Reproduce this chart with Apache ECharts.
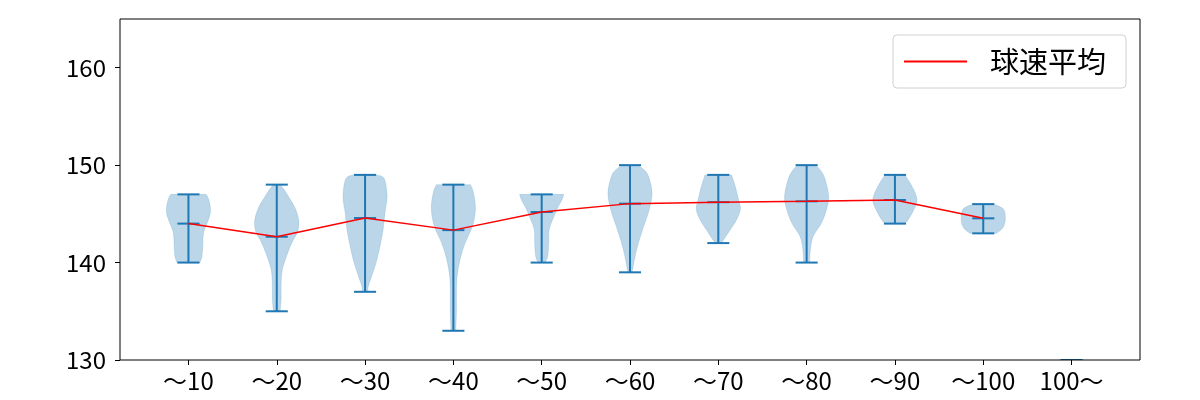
<!DOCTYPE html>
<html><head><meta charset="utf-8">
<script src="https://cdn.jsdelivr.net/npm/echarts@6/dist/echarts.min.js"></script>
<style>html,body{margin:0;padding:0;background:#fff}#c{width:1200px;height:400px}</style>
</head><body><div id="c"></div>
<script>
const categories = ['〜10','〜20','〜30','〜40','〜50','〜60','〜70','〜80','〜90','〜100','100〜'];
const minVals  = [140, 135, 137, 133, 140, 139, 142, 140, 144, 143, 127.5];
const maxVals  = [147, 148, 149, 148, 147, 150, 149, 150, 149, 146, 130.0];
const meanVals = [144.0, 142.65, 144.57, 143.33, 145.19, 146.05, 146.2, 146.29, 146.42, 144.54, null];
// density profile (relative width, 1 = widest) read at speed levels
const densityLevels = [
  [140, 140.5, 141, 141.7, 142.5, 143.2, 143.8, 144.5, 145.2, 146, 146.6, 147],
  [135, 135.4, 136.4, 137.7, 139.1, 140.1, 141.2, 142.2, 143.2, 144.3, 145.6, 147, 147.6, 148],
  [137, 137.6, 138.6, 140, 141.7, 143.4, 145.1, 146.8, 148.6, 149],
  [133, 135, 137, 138.6, 140.3, 142, 143.7, 145.5, 147.2, 148],
  [140, 140.6, 142, 143.4, 144.8, 145.6, 146.5, 147],
  [139, 139.3, 140.6, 142, 143.7, 145.5, 147.2, 148.9, 149.6, 150],
  [142, 142.3, 143.4, 144.4, 145.5, 146.5, 147.9, 149],
  [140, 140.1, 141.3, 142.7, 144.1, 145.5, 146.8, 148.6, 149.5, 150],
  [144, 144.4, 145.3, 146.3, 147.2, 148.2, 149],
  [143, 143.6, 144.5, 145.5, 146],
  [127.5, 128.5, 129.5, 130.0]
];
const densityWidths = [
  [0.52, 0.6, 0.63, 0.65, 0.66, 0.7, 0.8, 0.92, 1.0, 0.97, 0.9, 0.8],
  [0.15, 0.17, 0.2, 0.2, 0.24, 0.36, 0.53, 0.72, 0.95, 1.0, 0.83, 0.47, 0.3, 0.16],
  [0.12, 0.15, 0.3, 0.5, 0.68, 0.82, 0.9, 1.0, 0.87, 0.53],
  [0.11, 0.14, 0.14, 0.17, 0.3, 0.53, 0.86, 1.0, 0.91, 0.77],
  [0.15, 0.27, 0.32, 0.34, 0.57, 0.72, 0.93, 1.0],
  [0.08, 0.12, 0.23, 0.38, 0.62, 0.88, 1.0, 0.83, 0.6, 0.38],
  [0.12, 0.23, 0.55, 0.83, 1.0, 0.91, 0.76, 0.6],
  [0.12, 0.14, 0.17, 0.3, 0.68, 0.91, 1.0, 0.83, 0.62, 0.42],
  [0.45, 0.6, 0.83, 1.0, 0.91, 0.68, 0.45],
  [0.6, 0.9, 1.0, 0.91, 0.45],
  [0.5, 1.0, 0.8, 0.6]
];
const yTicks = [130, 140, 150, 160];
const seriesName = '球速平均';

const FONT = 'Noto Sans CJK JP';
const positions = categories.map((c, i) => i + 1);

function smoothPath(pts, start) {
  let d = start ? 'M' + pts[0][0] + ',' + pts[0][1] : 'L' + pts[0][0] + ',' + pts[0][1];
  for (let i = 0; i < pts.length - 1; i++) {
    const p0 = pts[Math.max(i - 1, 0)], p1 = pts[i], p2 = pts[i + 1], p3 = pts[Math.min(i + 2, pts.length - 1)];
    const c1 = [p1[0] + (p2[0] - p0[0]) / 6, p1[1] + (p2[1] - p0[1]) / 6];
    const c2 = [p2[0] - (p3[0] - p1[0]) / 6, p2[1] - (p3[1] - p1[1]) / 6];
    d += 'C' + c1[0] + ',' + c1[1] + ' ' + c2[0] + ',' + c2[1] + ' ' + p2[0] + ',' + p2[1];
  }
  return d;
}

function renderViolin(params, api) {
  const i = params.dataIndex;
  const pos = api.value(0);
  const lv = densityLevels[i], wd = densityWidths[i];
  const right = lv.map((v, k) => api.coord([pos + wd[k] * 0.25, v]));
  const left = lv.map((v, k) => api.coord([pos - wd[k] * 0.25, v])).reverse();
  const d = smoothPath(right, true) + smoothPath(left, false) + 'Z';
  const lineStyle = { stroke: '#1f77b4', lineWidth: 2 };
  const children = [{
    type: 'path', shape: { pathData: d }, style: { fill: 'rgba(31,119,180,0.3)', stroke: 'rgba(31,119,180,0.3)', lineWidth: 0.5 }
  }];
  const top = api.coord([pos, maxVals[i]]), bot = api.coord([pos, minVals[i]]);
  children.push({ type: 'line', shape: { x1: top[0], y1: top[1], x2: bot[0], y2: bot[1] }, style: lineStyle });
  const caps = [minVals[i], maxVals[i]];
  if (meanVals[i] != null) caps.push(meanVals[i]);
  caps.forEach(v => {
    const a = api.coord([pos - 0.125, v]), b = api.coord([pos + 0.125, v]);
    children.push({ type: 'line', shape: { x1: a[0], y1: a[1], x2: b[0], y2: b[1] }, style: lineStyle });
  });
  return { type: 'group', children };
}

const chart = echarts.init(document.getElementById('c'), null, { renderer: 'canvas' });
chart.setOption({
  animation: false,
  backgroundColor: '#fff',
  textStyle: { fontFamily: FONT },
  grid: { left: 120, right: 60, top: 19, bottom: 40, show: true, borderColor: '#000', borderWidth: 1, backgroundColor: 'transparent', z: 10 },
  legend: {
    data: [seriesName], left: 893, top: 35, orient: 'horizontal',
    icon: 'rect', itemWidth: 63, itemHeight: 2,
    padding: [12, 20, 12, 11],
    borderColor: '#d0d0d0', borderWidth: 1, borderRadius: 4, backgroundColor: '#fff',
    textStyle: { fontSize: 29, color: '#000', fontFamily: FONT, padding: [0, 0, 0, 18] },
    z: 20
  },
  xAxis: {
    type: 'value', min: 0.225, max: 11.775,
    axisLine: { show: false },
    splitLine: { show: false },
    axisTick: { show: true, customValues: positions, length: 5, lineStyle: { color: '#000', width: 1 } },
    axisLabel: { show: true, customValues: positions, formatter: v => categories[Math.round(v) - 1], fontSize: 24, color: '#000', margin: 9, fontFamily: FONT }
  },
  yAxis: {
    type: 'value', min: 130, max: 165,
    axisLine: { show: false },
    splitLine: { show: false },
    axisTick: { show: true, customValues: yTicks, length: 5, lineStyle: { color: '#000', width: 1 } },
    axisLabel: { show: true, customValues: yTicks, fontSize: 24, color: '#000', margin: 14, fontFamily: FONT }
  },
  series: [
    {
      type: 'custom', name: 'violin', clip: true,
      data: positions.map((p, i) => [p, minVals[i], maxVals[i]]),
      encode: { x: 0, y: [1, 2] },
      renderItem: renderViolin,
      z: 2
    },
    {
      type: 'line', name: seriesName,
      data: positions.map((p, i) => [p, meanVals[i]]).filter(d => d[1] != null),
      symbol: 'none', color: 'red',
      lineStyle: { color: 'red', width: 1.5 },
      z: 3
    }
  ]
});
</script></body></html>
